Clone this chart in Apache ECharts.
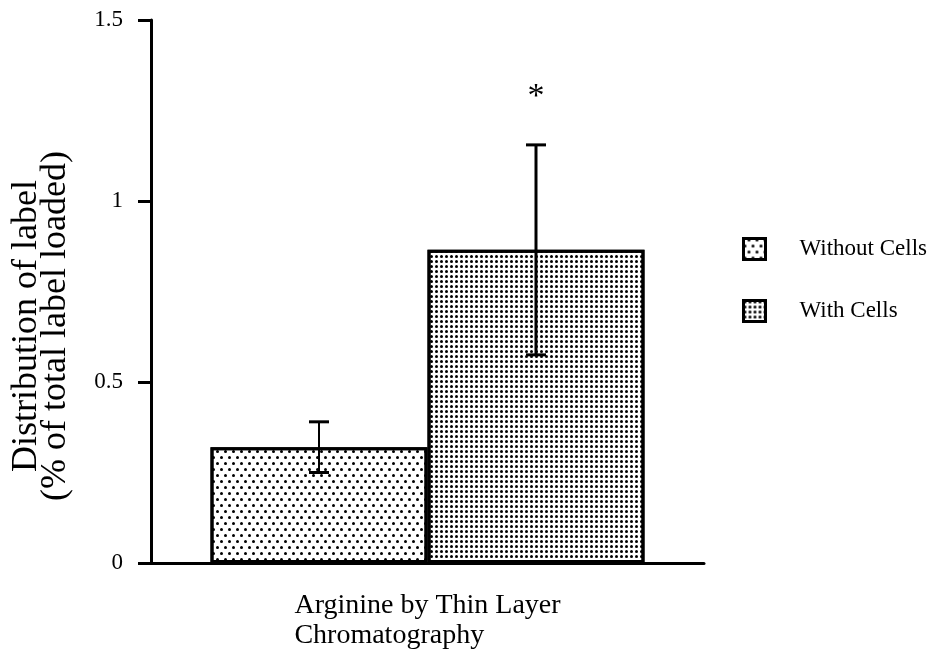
<!DOCTYPE html>
<html><head><meta charset="utf-8">
<script src="https://cdn.jsdelivr.net/npm/echarts@6/dist/echarts.min.js"></script>
<style>html,body{margin:0;padding:0;background:#fff}#c{width:940px;height:663px}</style>
</head><body><div id="c"></div>
<script>
// ---- data ----
const categories = ['Arginine by Thin Layer\nChromatography'];
const seriesNames = ['Without Cells', 'With Cells'];
const means = [0.32, 0.865];
const errors = [0.07, 0.29];
const significance = ['', '*'];
const yTicks = [0, 0.5, 1, 1.5];
const yAxisName = 'Distribution of label\n(% of total label loaded)';

// ---- style ----
const FONT = '"Liberation Serif", "Times New Roman", serif';
const BAR_W = 217;
const decals = [
  {symbol: 'circle', symbolSize: 1, color: '#000', dashArrayX: [[2.6, 4.1], [0, 3.35, 2.6, 0.75]], dashArrayY: [2.6, 2.4]},
  {symbol: 'circle', symbolSize: 1, color: '#000', dashArrayX: [2.4, 1.6], dashArrayY: [2.4, 1.6]}
];
const errWidths = [2, 3];

const chart = echarts.init(document.getElementById('c'), null, {renderer: 'canvas'});

const barSeries = seriesNames.map((name, i) => ({
  name: name,
  type: 'bar',
  data: [means[i]],
  barWidth: BAR_W,
  barGap: '0%',
  itemStyle: {color: '#fff', borderColor: '#000', borderWidth: 3, decal: decals[i]},
  emphasis: {disabled: true},
  z: 2
}));

const errData = seriesNames.map((n, i) => [0, means[i] - errors[i], means[i] + errors[i], i]);

const errSeries = {
  type: 'custom',
  name: 'err',
  data: errData,
  z: 5,
  silent: true,
  renderItem: function (params, api) {
    const cat = api.value(0), lo = api.value(1), hi = api.value(2), idx = api.value(3);
    let off;
    if (api.barLayout) {
      const lay = api.barLayout({barWidth: BAR_W, barGap: '0%', count: seriesNames.length});
      off = lay[idx].offsetCenter;
    } else {
      off = (idx - (seriesNames.length - 1) / 2) * BAR_W;
    }
    const pLo = api.coord([cat, lo]);
    const pHi = api.coord([cat, hi]);
    const x = pLo[0] + off;
    const w = errWidths[idx];
    const cap = 10;
    const style = {stroke: '#000', lineWidth: w};
    const children = [
      {type: 'line', shape: {x1: x, y1: pLo[1], x2: x, y2: pHi[1]}, style: style},
      {type: 'line', shape: {x1: x - cap, y1: pLo[1], x2: x + cap, y2: pLo[1]}, style: {stroke: '#000', lineWidth: 3}},
      {type: 'line', shape: {x1: x - cap, y1: pHi[1], x2: x + cap, y2: pHi[1]}, style: {stroke: '#000', lineWidth: 3}}
    ];
    const sig = significance[params.dataIndex];
    if (sig) {
      children.push({type: 'text', x: x, y: pHi[1] - 48, style: {text: sig, font: '34px ' + FONT, fill: '#000', textAlign: 'center', textVerticalAlign: 'middle'}});
    }
    return {type: 'group', children: children};
  }
};

chart.setOption({
  animation: false,
  backgroundColor: '#fff',
  grid: {left: 151, right: 236, top: 20, bottom: 100, containLabel: false},
  legend: {
    data: seriesNames,
    orient: 'vertical',
    left: 742,
    top: 237,
    padding: 0,
    itemWidth: 22,
    itemHeight: 21,
    itemGap: 38,
    icon: 'rect',
    itemStyle: {borderColor: '#000', borderWidth: 3},
    formatter: name => '{p|}' + name,
    textStyle: {fontFamily: FONT, fontSize: 23, color: '#000', rich: {p: {width: 29}}},
    selectedMode: false
  },
  xAxis: {
    type: 'category',
    data: categories,
    axisLine: {lineStyle: {color: '#000', width: 3}},
    axisTick: {alignWithLabel: true, length: 12, lineStyle: {color: '#000', width: 2}},
    axisLabel: {
      margin: 28,
      formatter: v => v.split('\n').map(s => '{a|' + s + '}').join('\n'),
      rich: {a: {fontFamily: FONT, fontSize: 28, color: '#000', align: 'left', lineHeight: 30}}
    },
    splitLine: {show: false}
  },
  yAxis: {
    type: 'value',
    min: yTicks[0],
    max: yTicks[yTicks.length - 1],
    interval: yTicks[1] - yTicks[0],
    axisLine: {show: true, lineStyle: {color: '#000', width: 3}},
    axisTick: {show: true, length: 13, lineStyle: {color: '#000', width: 3}},
    axisLabel: {fontFamily: FONT, fontSize: 23, color: '#000', margin: 28},
    splitLine: {show: false}
  },
  graphic: [{
    type: 'text',
    x: 41,
    y: 326,
    rotation: Math.PI / 2,
    style: {text: yAxisName, font: '36px ' + FONT, fill: '#000', textAlign: 'center', textVerticalAlign: 'middle', lineHeight: 29}
  }],
  series: barSeries.concat([errSeries])
});
</script></body></html>
